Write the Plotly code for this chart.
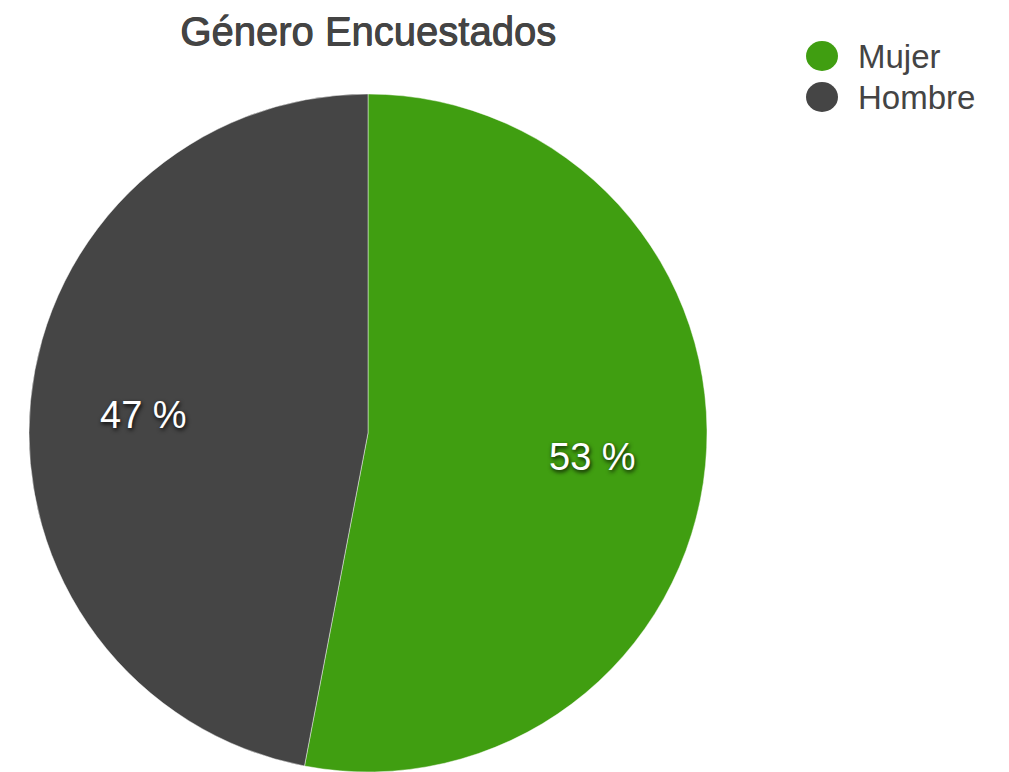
import math

import plotly.graph_objects as go

# data
labels = ["Mujer", "Hombre"]
values = [53, 47]
colors = ["#409e11", "#454545"]
title_text = "Género Encuestados"

W, H = 1009, 772
FONT = "Liberation Sans, Arial, sans-serif"

# pie geometry in pixels
CX, TOP, R = 368, 94, 339
CY = TOP + R


def px_x(x):
    return x / W


def px_y(y):
    return 1 - y / H


fig = go.Figure()

fig.add_trace(
    go.Pie(
        labels=labels,
        values=values,
        sort=False,
        direction="clockwise",
        rotation=0,
        marker=dict(colors=colors, line=dict(color="rgba(255,255,255,0.45)", width=1)),
        textinfo="none",
        domain=dict(x=[px_x(CX - R), px_x(CX + R)], y=[0, px_y(TOP)]),
        showlegend=False,
        hoverinfo="label+percent",
    )
)

annotations = []

# percentage labels along each slice's bisector
total = sum(values)
start = 0.0
for v in values:
    mid = (start + v / 2) / total * 2 * math.pi
    start += v
    lx = CX + 0.664 * R * math.sin(mid)
    ly = CY - 0.664 * R * math.cos(mid) + 3
    annotations.append(dict(text=f"{v} %", xref="paper", yref="paper",
                            x=px_x(lx), y=px_y(ly), xanchor="center", yanchor="middle",
                            showarrow=False,
                            font=dict(family=FONT, size=38, color="white",
                                      shadow="1px 2px 4px rgba(0,0,0,0.9)")))

# legend drawn by hand so the markers can be large circles
shapes = []
for i, (lab, col) in enumerate(zip(labels, colors)):
    cy = 56 + i * 41
    shapes.append(dict(type="circle", xref="paper", yref="paper",
                       x0=px_x(806), x1=px_x(838), y0=px_y(cy - 15), y1=px_y(cy + 15),
                       fillcolor=col, line=dict(width=0)))
    annotations.append(dict(text=lab, xref="paper", yref="paper", x=px_x(856), y=px_y(cy),
                            xanchor="left", yanchor="middle", showarrow=False,
                            font=dict(family=FONT, size=33, color="#444444")))

fig.update_layout(
    width=W,
    height=H,
    margin=dict(l=0, r=0, t=0, b=0),
    paper_bgcolor="white",
    plot_bgcolor="white",
    title=dict(text=title_text, x=px_x(CX), xanchor="center", xref="paper",
               y=px_y(31), yanchor="middle", yref="paper",
               font=dict(family=FONT, size=40, color="#444444",
                         shadow="0.8px 0 0 #444444, 0 0.5px 0 #444444")),
    shapes=shapes,
    annotations=annotations,
)

# drop the default body margin so the figure sits at the window's corner
fig.write_html("out.html", config={"displayModeBar": False},
               post_script="document.body.style.margin='0';")
